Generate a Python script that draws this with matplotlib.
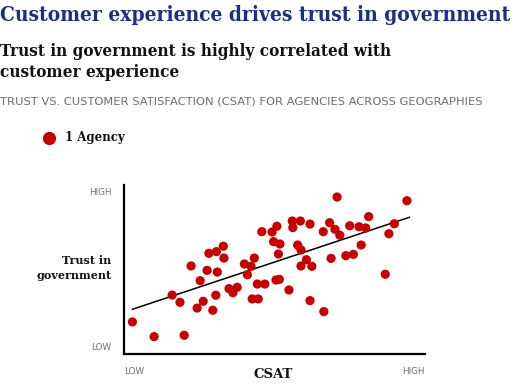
import matplotlib
matplotlib.use("Agg")
import matplotlib.pyplot as plt
from matplotlib.lines import Line2D

# ---- data (relative units: 0 = LOW, 100 = HIGH) ----
csat = [2.8, 10.0, 20.0, 16.0, 18.6, 22.3, 24.3, 25.3, 26.3, 27.6,
        28.2, 29.5, 30.5, 30.7, 31.0, 33.0, 33.2, 34.9, 36.2, 37.6,
        40.0, 41.0, 42.2, 42.6, 43.3, 44.3, 44.6, 45.8, 46.8, 49.2,
        49.7, 50.5, 50.8, 51.3, 51.6, 51.8, 54.8, 55.9, 56.1, 57.7,
        58.6, 58.8, 58.8, 60.6, 61.8, 61.8, 62.4, 66.2, 66.4, 68.3,
        68.8, 70.1, 70.8, 71.7, 73.7, 75.0, 76.2, 78.1, 78.8, 80.3,
        81.3, 86.8, 88.0, 89.8, 94.0]
trust = [18.8, 10.1, 10.9, 34.7, 30.4, 51.9, 27.0, 43.2, 31.0, 49.3,
         59.4, 25.7, 34.6, 60.4, 48.3, 63.6, 56.6, 38.5, 36.1, 39.3,
         53.1, 46.7, 51.7, 32.4, 56.6, 41.2, 32.4, 72.2, 41.2, 72.0,
         66.3, 43.6, 75.4, 59.0, 44.0, 64.9, 37.7, 78.5, 74.6, 64.3,
         78.5, 61.4, 51.9, 55.6, 76.7, 31.4, 51.7, 72.2, 24.9, 77.5,
         56.4, 73.6, 92.7, 70.1, 58.0, 75.7, 58.8, 75.1, 64.3, 74.4,
         81.1, 47.0, 71.0, 76.9, 90.5]
trend_x = [2.8, 94.8]
trend_y = [26.3, 80.7]

title = "Customer experience drives trust in government"
subtitle1 = "Trust in government is highly correlated with"
subtitle2 = "customer experience"
caption = "TRUST VS. CUSTOMER SATISFACTION (CSAT) FOR AGENCIES ACROSS GEOGRAPHIES"
legend_label = "1 Agency"
x_label = "CSAT"
y_label = "Trust in\ngovernment"
low_label, high_label = "LOW", "HIGH"

RED = "#c60000"
NAVY = "#1c2f80"
GRAY = "#6e6e6e"

W, H = 512, 384
fig = plt.figure(figsize=(W / 100, H / 100), dpi=100)


def fx(px):
    return px / W


def fy(py):
    return 1 - py / H


# axes placed in pixel coordinates
left, right, top, bottom = 124, 425, 184.7, 353.7
ax = fig.add_axes([fx(left), fy(bottom), fx(right) - fx(left), (bottom - top) / H])
ax.scatter(csat, trust, s=44, color=RED, edgecolors="none", zorder=3)
ax.plot(trend_x, trend_y, color="black", lw=1.1, zorder=2)
ax.set_xlim(0, 100)
ax.set_ylim(0, 100)
ax.set_xticks([])
ax.set_yticks([])
for s in ("top", "right"):
    ax.spines[s].set_visible(False)
for s in ("left", "bottom"):
    ax.spines[s].set_linewidth(1.6)
    ax.spines[s].set_color("black")

renderer = fig.canvas.get_renderer()


def fit_width(t, target):
    bb = t.get_window_extent(renderer)
    t.set_fontsize(t.get_fontsize() * target / bb.width)


t1 = fig.text(fx(0), fy(21), title, family="DejaVu Serif", weight="bold",
              stretch="condensed", color=NAVY, fontsize=13, va="baseline", ha="left")
fit_width(t1, 510)
s1 = fig.text(fx(0), fy(56.5), subtitle1, family="DejaVu Serif", weight="bold",
              stretch="condensed", color="#111111", fontsize=12, va="baseline", ha="left")
fit_width(s1, 391)
s2 = fig.text(fx(0), fy(77), subtitle2, family="DejaVu Serif", weight="bold",
              stretch="condensed", color="#111111", fontsize=s1.get_fontsize(),
              va="baseline", ha="left")
c1 = fig.text(fx(0), fy(104), caption, family="DejaVu Sans",
              color=GRAY, fontsize=7, va="baseline", ha="left")
fit_width(c1, 482)

# legend
fig.add_artist(Line2D([fx(49)], [fy(137.5)], marker="o", ms=9.5, color=RED,
                      mec="none", transform=fig.transFigure))
fig.text(fx(65), fy(137.5), legend_label, family="DejaVu Serif", weight="bold",
         fontsize=8.5, va="center", ha="left", color="#111111")

# axis labels
fig.text(fx(111.5), fy(268), y_label, family="DejaVu Serif", weight="bold",
         fontsize=8, va="center", ha="right", ma="right", color="#111111",
         linespacing=1.5)
fig.text(fx(273.5), fy(377.5), x_label, family="DejaVu Serif", weight="bold",
         fontsize=9.5, va="baseline", ha="center", color="#111111")

# LOW / HIGH end labels
kw = dict(family="DejaVu Sans", fontsize=6.3, color=GRAY)
fig.text(fx(111.5), fy(192.7), high_label, va="center", ha="right", **kw)
fig.text(fx(111.5), fy(347.3), low_label, va="center", ha="right", **kw)
fig.text(fx(124), fy(372), low_label, va="center", ha="left", **kw)
fig.text(fx(425), fy(372), high_label, va="center", ha="right", **kw)

fig.savefig("out.png", dpi=100)
